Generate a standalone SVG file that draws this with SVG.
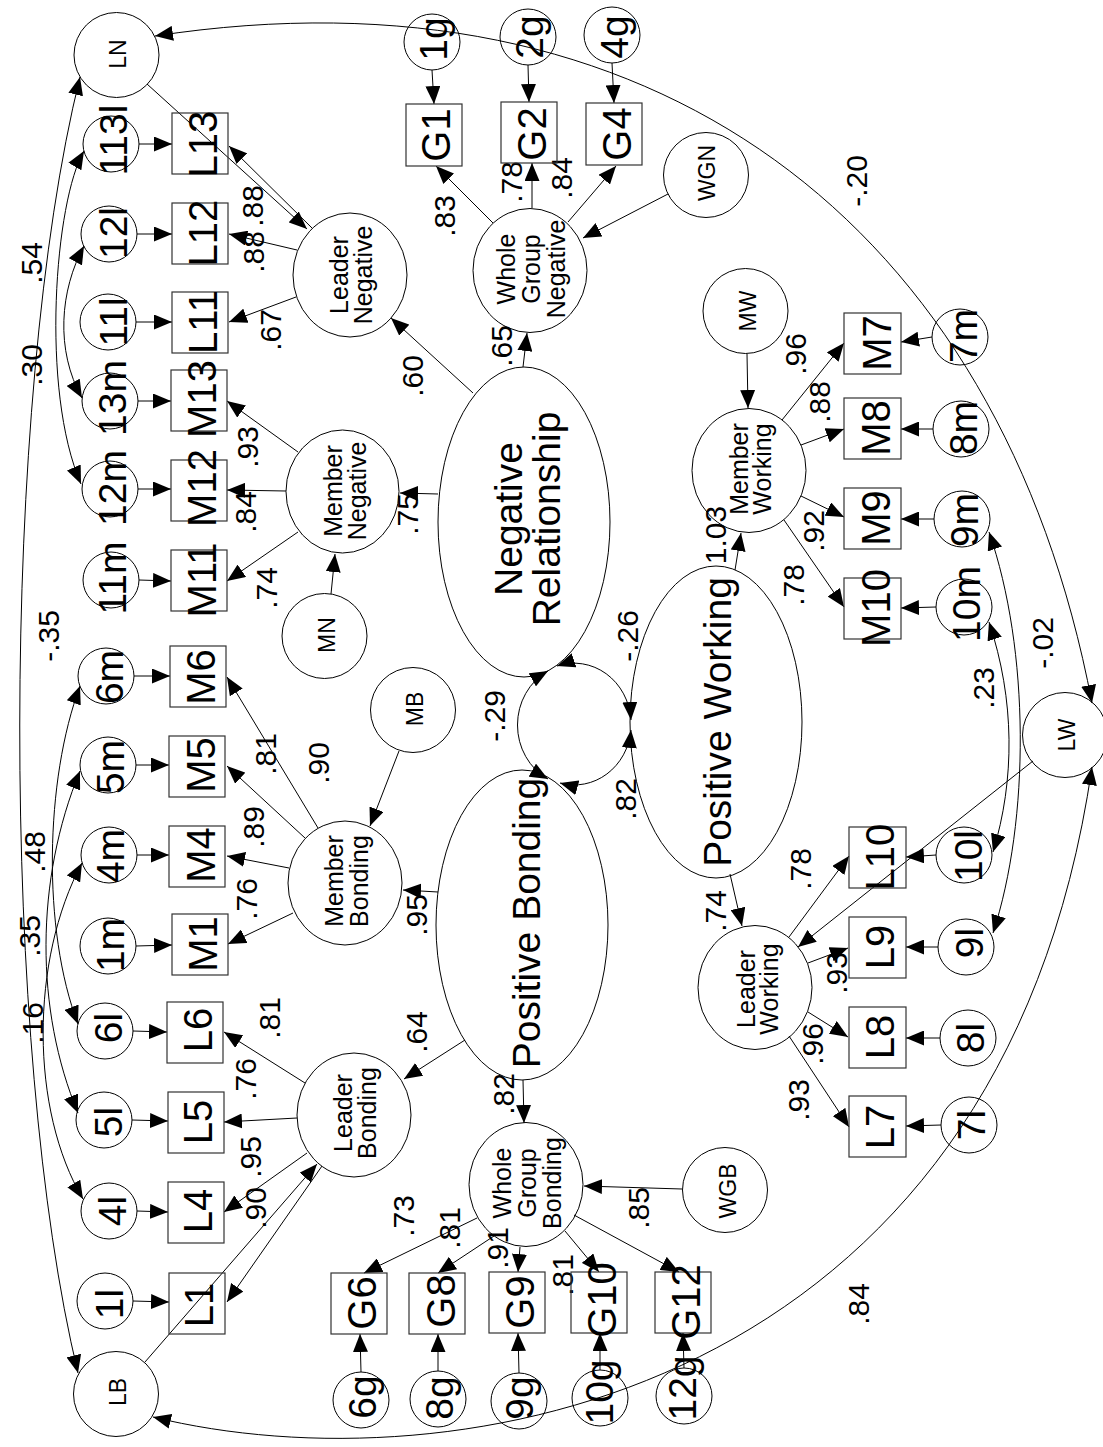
<svg xmlns="http://www.w3.org/2000/svg" width="1103" height="1447" viewBox="0 0 1103 1447">
<style>
.ln{fill:none;stroke:#000;stroke-width:1}
.nd{fill:none;stroke:#000;stroke-width:1}
.bx{fill:none;stroke:#333;stroke-width:1.2}
text{font-family:"Liberation Sans",Arial,sans-serif;text-anchor:middle;dominant-baseline:central;fill:#000}
.b{font-size:40px}
.e{font-size:39px}
.s{font-size:23px}
.f{font-size:25px}
.big{font-size:39px}
.c{font-size:30px}
</style>
<defs>
<marker id="a" markerUnits="userSpaceOnUse" markerWidth="18" markerHeight="15" refX="18" refY="7.5" orient="auto-start-reverse" viewBox="0 0 18 15"><path d="M0,0 L18,7.5 L0,15 z" fill="#000"/></marker>
</defs>
<rect width="1103" height="1447" fill="#fff"/>

<g id="connectors">
<g class="ln" marker-end="url(#a)">
<!-- left error to box -->
<path d="M139,144 L172,144"/><path d="M137,234 L172,234"/><path d="M136,322 L172,322"/>
<path d="M138,401 L171,401"/><path d="M138,489 L171,489"/><path d="M139,580 L171,581"/>
<path d="M134,676 L170,676"/><path d="M136,765 L169,765"/><path d="M137,855 L169,855"/>
<path d="M136,946 L172,945"/><path d="M133,1031 L167,1032"/><path d="M132,1120 L168,1121"/>
<path d="M137,1211 L168,1212"/><path d="M133,1301 L169,1302"/>
<!-- top/bottom error to box -->
<path d="M432,70 L434,104"/><path d="M528,65 L529,102"/><path d="M612,63 L614,103"/>
<path d="M361,1372 L360,1334"/><path d="M438,1371 L438,1334"/><path d="M519,1373 L518,1333"/>
<path d="M600,1370 L600,1333"/><path d="M684,1368 L683,1333"/>
<!-- right error to box -->
<path d="M932,337 L901,342"/><path d="M933,429 L901,429"/><path d="M934,519 L901,519"/>
<path d="M936,607 L901,608"/><path d="M936,855 L906,857"/><path d="M938,947 L906,947"/>
<path d="M940,1038 L906,1038"/><path d="M941,1125 L906,1126"/>
<!-- Leader Negative -->
<path d="M312,228 L229,146"/><path d="M297,250 L229,234"/><path d="M296,297 L229,322"/>
<path d="M147,84 L307,229"/>
<!-- Member Negative -->
<path d="M298,452 L227,401"/><path d="M286,491 L227,490"/><path d="M298,532 L227,581"/>
<path d="M331,594 L335,554"/>
<!-- Negative Relationship -->
<path d="M473,393 L391,318"/><path d="M438,494 L400,493"/><path d="M523,367 L527,333"/>
<!-- Whole Group Negative -->
<path d="M493,223 L436,166"/><path d="M532,208 L532,163"/><path d="M568,222 L616,166"/>
<path d="M668,194 L583,238"/>
<!-- Member Working -->
<path d="M747,354 L748,408"/>
<path d="M782,420 L844,343"/><path d="M801,445 L844,429"/><path d="M801,496 L844,517"/><path d="M784,520 L844,607"/>
<path d="M735,570 L741,533"/>
<!-- Leader Working -->
<path d="M730,874 L742,926"/>
<path d="M789,937 L849,856"/><path d="M808,963 L848,948"/><path d="M808,1012 L848,1037"/><path d="M789,1036 L849,1127"/>
<path d="M1033,761 L798,947"/>
<!-- Member Bonding -->
<path d="M318,828 L227,677"/><path d="M305,838 L227,766"/><path d="M289,868 L227,856"/><path d="M293,913 L228,944"/>
<path d="M399,751 L370,826"/>
<!-- Positive Bonding -->
<path d="M438,892 L403,890"/><path d="M465,1040 L404,1079"/><path d="M523,1080 L524,1123"/>
<!-- Leader Bonding -->
<path d="M305,1083 L224,1032"/><path d="M297,1118 L224,1122"/><path d="M307,1153 L224,1212"/><path d="M322,1166 L227,1302"/>
<path d="M145,1362 L317,1164"/>
<!-- Whole Group Bonding -->
<path d="M477,1218 L364,1273"/><path d="M494,1236 L438,1273"/><path d="M520,1247 L518,1272"/>
<path d="M565,1231 L599,1272"/><path d="M574,1215 L679,1272"/>
<path d="M682,1189 L584,1186"/>
</g>
<g class="ln" marker-start="url(#a)" marker-end="url(#a)">
<path d="M80,77 C0,400 0,1050 78,1373"/>
<path d="M84,151 C55,200 40,390 81,484"/>
<path d="M84,246 C60,290 55,350 82,398"/>
<path d="M80,686 C45,780 42,930 78,1024"/>
<path d="M80,771 C35,880 35,1010 78,1113"/>
<path d="M82,863 C30,960 30,1110 83,1199"/>
<path d="M155,36 C650,-40 1000,220 1092,703"/>
<path d="M153,1417 C450,1490 1000,1400 1092,767"/>
<path d="M989,532 C1030,650 1030,820 993,933"/>
<path d="M989,622 C1015,700 1015,780 993,852"/>
<path d="M548,671 A57,61 0 0 0 548,779"/>
<path d="M557,666 A57,61 0 0 1 631,720"/>
<path d="M560,783 A57,61 0 0 0 631,730"/>
</g>
</g>

<g id="coefficients" class="c">
<text transform="translate(31 263) rotate(-90)">.54</text>
<text transform="translate(31 365) rotate(-90)">.30</text>
<text transform="translate(48 636) rotate(-90)">-.35</text>
<text transform="translate(34 852) rotate(-90)">.48</text>
<text transform="translate(29 936) rotate(-90)">.35</text>
<text transform="translate(32 1023) rotate(-90)">.16</text>
<text transform="translate(252 206) rotate(-90)">.88</text>
<text transform="translate(253 252) rotate(-90)">.88</text>
<text transform="translate(270 330) rotate(-90)">.67</text>
<text transform="translate(247 447) rotate(-90)">.93</text>
<text transform="translate(245 512) rotate(-90)">.84</text>
<text transform="translate(266 588) rotate(-90)">.74</text>
<text transform="translate(412 376) rotate(-90)">.60</text>
<text transform="translate(407 514) rotate(-90)">.75</text>
<text transform="translate(501 346) rotate(-90)">.65</text>
<text transform="translate(444 216) rotate(-90)">.83</text>
<text transform="translate(511 182) rotate(-90)">.78</text>
<text transform="translate(561 178) rotate(-90)">.84</text>
<text transform="translate(856 181) rotate(-90)">-.20</text>
<text transform="translate(795 354) rotate(-90)">.96</text>
<text transform="translate(819 402) rotate(-90)">.88</text>
<text transform="translate(813 531) rotate(-90)">.92</text>
<text transform="translate(793 585) rotate(-90)">.78</text>
<text transform="translate(715 535) rotate(-90)">1.03</text>
<text transform="translate(627 636) rotate(-90)">-.26</text>
<text transform="translate(494 716) rotate(-90)">-.29</text>
<text transform="translate(625 799) rotate(-90)">.82</text>
<text transform="translate(1042 643) rotate(-90)">-.02</text>
<text transform="translate(983 688) rotate(-90)">.23</text>
<text transform="translate(318 763) rotate(-90)">.90</text>
<text transform="translate(265 754) rotate(-90)">.81</text>
<text transform="translate(253 827) rotate(-90)">.89</text>
<text transform="translate(246 899) rotate(-90)">.76</text>
<text transform="translate(416 915) rotate(-90)">.95</text>
<text transform="translate(416 1032) rotate(-90)">.64</text>
<text transform="translate(715 911) rotate(-90)">.74</text>
<text transform="translate(800 869) rotate(-90)">.78</text>
<text transform="translate(836 973) rotate(-90)">.93</text>
<text transform="translate(812 1044) rotate(-90)">.96</text>
<text transform="translate(798 1100) rotate(-90)">.93</text>
<text transform="translate(269 1018) rotate(-90)">.81</text>
<text transform="translate(245 1079) rotate(-90)">.76</text>
<text transform="translate(250 1157) rotate(-90)">.95</text>
<text transform="translate(255 1208) rotate(-90)">.90</text>
<text transform="translate(503 1094) rotate(-90)">.82</text>
<text transform="translate(403 1216) rotate(-90)">.73</text>
<text transform="translate(449 1228) rotate(-90)">.81</text>
<text transform="translate(497 1248) rotate(-90)">.91</text>
<text transform="translate(562 1275) rotate(-90)">.81</text>
<text transform="translate(638 1208) rotate(-90)">.85</text>
<text transform="translate(858 1304) rotate(-90)">.84</text>
</g>

<!-- Big latent factors -->
<g id="NegativeRelationship"><ellipse class="nd" cx="524" cy="522" rx="86" ry="155"/>
<text class="big" transform="translate(524 519) rotate(-90)"><tspan x="0" y="-16">Negative</tspan><tspan x="0" y="22">Relationship</tspan></text></g>
<g id="PositiveBonding"><ellipse class="nd" cx="522" cy="925" rx="86" ry="155"/>
<text class="big" transform="translate(526 923) rotate(-90)">Positive Bonding</text></g>
<g id="PositiveWorking"><ellipse class="nd" cx="716" cy="722" rx="86" ry="156"/>
<text class="big" transform="translate(717 722) rotate(-90)">Positive Working</text></g>

<!-- First-order factors -->
<g id="LeaderNegative"><ellipse class="nd" cx="350" cy="275" rx="57" ry="62"/>
<text class="f" transform="translate(350 275) rotate(-90)"><tspan x="0" y="-11">Leader</tspan><tspan x="0" y="13">Negative</tspan></text></g>
<g id="MemberNegative"><ellipse class="nd" cx="342.5" cy="491.5" rx="56.5" ry="61.5"/>
<text class="f" transform="translate(342.5 491) rotate(-90)"><tspan x="0" y="-9.5">Member</tspan><tspan x="0" y="14.5">Negative</tspan></text></g>
<g id="WholeGroupNegative"><ellipse class="nd" cx="530" cy="270.5" rx="57" ry="62"/>
<text class="f" transform="translate(530 269) rotate(-90)"><tspan x="0" y="-24">Whole</tspan><tspan x="0" y="1">Group</tspan><tspan x="0" y="26">Negative</tspan></text></g>
<g id="MemberBonding"><ellipse class="nd" cx="345" cy="883" rx="57" ry="62"/>
<text class="f" transform="translate(345 881) rotate(-90)"><tspan x="0" y="-11">Member</tspan><tspan x="0" y="14">Bonding</tspan></text></g>
<g id="LeaderBonding"><ellipse class="nd" cx="354" cy="1115" rx="57" ry="62"/>
<text class="f" transform="translate(354 1113) rotate(-90)"><tspan x="0" y="-11.5">Leader</tspan><tspan x="0" y="13">Bonding</tspan></text></g>
<g id="WholeGroupBonding"><ellipse class="nd" cx="526" cy="1184.5" rx="57" ry="62"/>
<text class="f" transform="translate(526 1183) rotate(-90)"><tspan x="0" y="-24">Whole</tspan><tspan x="0" y="1">Group</tspan><tspan x="0" y="26">Bonding</tspan></text></g>
<g id="MemberWorking"><ellipse class="nd" cx="749" cy="470.5" rx="57" ry="62"/>
<text class="f" transform="translate(749 469) rotate(-90)"><tspan x="0" y="-10">Member</tspan><tspan x="0" y="13">Working</tspan></text></g>
<g id="LeaderWorking"><ellipse class="nd" cx="755" cy="987.5" rx="57" ry="62"/>
<text class="f" transform="translate(755 989) rotate(-90)"><tspan x="0" y="-9">Leader</tspan><tspan x="0" y="14">Working</tspan></text></g>

<!-- Disturbances / method factors -->
<g id="LN"><circle class="nd" cx="116.5" cy="55" r="42.5"/><text class="s" transform="translate(118 54) rotate(-90)">LN</text></g>
<g id="LB"><circle class="nd" cx="116" cy="1394" r="42.5"/><text class="s" transform="translate(118 1392) rotate(-90)">LB</text></g>
<g id="MN"><circle class="nd" cx="324.5" cy="636" r="42.5"/><text class="s" transform="translate(327 635) rotate(-90)">MN</text></g>
<g id="MB"><circle class="nd" cx="413" cy="710" r="42.5"/><text class="s" transform="translate(415 709) rotate(-90)">MB</text></g>
<g id="WGN"><circle class="nd" cx="706" cy="175" r="42.5"/><text class="s" transform="translate(707 173) rotate(-90)">WGN</text></g>
<g id="WGB"><circle class="nd" cx="725" cy="1190" r="42.5"/><text class="s" transform="translate(728 1191) rotate(-90)">WGB</text></g>
<g id="MW"><circle class="nd" cx="745.5" cy="311" r="42.5"/><text class="s" transform="translate(748 311) rotate(-90)">MW</text></g>
<g id="LW"><circle class="nd" cx="1065" cy="735" r="42.5"/><text class="s" transform="translate(1067 735) rotate(-90)">LW</text></g>

<!-- Observed variables -->
<g id="L13"><rect class="bx" x="172" y="113" width="56" height="61"/><text class="b" transform="translate(203 144) rotate(-90)">L13</text></g>
<g id="L12"><rect class="bx" x="172" y="203" width="56" height="61"/><text class="b" transform="translate(203 233) rotate(-90)">L12</text></g>
<g id="L11"><rect class="bx" x="172" y="292" width="56" height="61"/><text class="b" transform="translate(203 322) rotate(-90)">L11</text></g>
<g id="M13"><rect class="bx" x="171" y="370" width="56" height="61"/><text class="b" transform="translate(202 399) rotate(-90)">M13</text></g>
<g id="M12"><rect class="bx" x="171" y="460" width="56" height="61"/><text class="b" transform="translate(202 488) rotate(-90)">M12</text></g>
<g id="M11"><rect class="bx" x="171" y="550" width="56" height="61"/><text class="b" transform="translate(202 580) rotate(-90)">M11</text></g>
<g id="M6"><rect class="bx" x="170" y="646" width="56" height="61"/><text class="b" transform="translate(201 677) rotate(-90)">M6</text></g>
<g id="M5"><rect class="bx" x="169" y="736" width="56" height="61"/><text class="b" transform="translate(201 765) rotate(-90)">M5</text></g>
<g id="M4"><rect class="bx" x="169" y="826" width="56" height="61"/><text class="b" transform="translate(201 855) rotate(-90)">M4</text></g>
<g id="M1"><rect class="bx" x="172" y="914" width="56" height="61"/><text class="b" transform="translate(203 944) rotate(-90)">M1</text></g>
<g id="L6"><rect class="bx" x="167" y="1002" width="56" height="61"/><text class="b" transform="translate(198 1030) rotate(-90)">L6</text></g>
<g id="L5"><rect class="bx" x="168" y="1092" width="56" height="61"/><text class="b" transform="translate(198 1122) rotate(-90)">L5</text></g>
<g id="L4"><rect class="bx" x="168" y="1182" width="56" height="61"/><text class="b" transform="translate(198 1211) rotate(-90)">L4</text></g>
<g id="L1"><rect class="bx" x="169" y="1273" width="56" height="61"/><text class="b" transform="translate(199 1305) rotate(-90)">L1</text></g>
<g id="G1"><rect class="bx" x="406" y="104" width="56" height="62"/><text class="b" transform="translate(436 135) rotate(-90)">G1</text></g>
<g id="G2"><rect class="bx" x="501" y="102" width="56" height="61"/><text class="b" transform="translate(532 134) rotate(-90)">G2</text></g>
<g id="G4"><rect class="bx" x="586" y="103" width="56" height="62"/><text class="b" transform="translate(617 134) rotate(-90)">G4</text></g>
<g id="G6"><rect class="bx" x="331" y="1273" width="56" height="61"/><text class="b" transform="translate(362 1303) rotate(-90)">G6</text></g>
<g id="G8"><rect class="bx" x="409" y="1273" width="56" height="61"/><text class="b" transform="translate(441 1301) rotate(-90)">G8</text></g>
<g id="G9"><rect class="bx" x="489" y="1272" width="56" height="61"/><text class="b" transform="translate(520 1302) rotate(-90)">G9</text></g>
<g id="G10"><rect class="bx" x="571" y="1272" width="56" height="61"/><text class="b" transform="translate(602 1300) rotate(-90)">G10</text></g>
<g id="G12"><rect class="bx" x="655" y="1272" width="56" height="61"/><text class="b" transform="translate(686 1302) rotate(-90)">G12</text></g>
<g id="M7"><rect class="bx" x="844" y="313" width="57" height="61"/><text class="b" transform="translate(877 343) rotate(-90)">M7</text></g>
<g id="M8"><rect class="bx" x="844" y="398" width="57" height="61"/><text class="b" transform="translate(876 428) rotate(-90)">M8</text></g>
<g id="M9"><rect class="bx" x="844" y="488" width="57" height="61"/><text class="b" transform="translate(876 518) rotate(-90)">M9</text></g>
<g id="M10"><rect class="bx" x="844" y="578" width="57" height="61"/><text class="b" transform="translate(876 608) rotate(-90)">M10</text></g>
<g id="L10"><rect class="bx" x="849" y="827" width="57" height="61"/><text class="b" transform="translate(880 857) rotate(-90)">L10</text></g>
<g id="L9"><rect class="bx" x="849" y="917" width="57" height="61"/><text class="b" transform="translate(880 947) rotate(-90)">L9</text></g>
<g id="L8"><rect class="bx" x="849" y="1007" width="57" height="61"/><text class="b" transform="translate(880 1037) rotate(-90)">L8</text></g>
<g id="L7"><rect class="bx" x="849" y="1096" width="57" height="61"/><text class="b" transform="translate(880 1127) rotate(-90)">L7</text></g>

<!-- Error terms -->
<g id="e113l"><circle class="nd" cx="111" cy="144" r="28"/><text class="e" transform="translate(113 140) rotate(-90)">113l</text></g>
<g id="e12l"><circle class="nd" cx="109" cy="234" r="28"/><text class="e" transform="translate(113 233) rotate(-90)">12l</text></g>
<g id="e11l"><circle class="nd" cx="108" cy="322" r="28"/><text class="e" transform="translate(113 322) rotate(-90)">11l</text></g>
<g id="e13m"><circle class="nd" cx="110" cy="401" r="28"/><text class="e" transform="translate(112 398) rotate(-90)">13m</text></g>
<g id="e12m"><circle class="nd" cx="110" cy="489" r="28"/><text class="e" transform="translate(112 488) rotate(-90)">12m</text></g>
<g id="e11m"><circle class="nd" cx="111" cy="580" r="28"/><text class="e" transform="translate(112 578) rotate(-90)">11m</text></g>
<g id="e6m"><circle class="nd" cx="106" cy="676" r="28"/><text class="e" transform="translate(109 677) rotate(-90)">6m</text></g>
<g id="e5m"><circle class="nd" cx="108" cy="765" r="28"/><text class="e" transform="translate(110 767) rotate(-90)">5m</text></g>
<g id="e4m"><circle class="nd" cx="109" cy="855" r="28"/><text class="e" transform="translate(110 856) rotate(-90)">4m</text></g>
<g id="e1m"><circle class="nd" cx="108" cy="946" r="28"/><text class="e" transform="translate(110 945) rotate(-90)">1m</text></g>
<g id="e6l"><circle class="nd" cx="105" cy="1031" r="28"/><text class="e" transform="translate(108 1028) rotate(-90)">6l</text></g>
<g id="e5l"><circle class="nd" cx="104" cy="1120" r="28"/><text class="e" transform="translate(108 1122) rotate(-90)">5l</text></g>
<g id="e4l"><circle class="nd" cx="109" cy="1211" r="28"/><text class="e" transform="translate(112 1211) rotate(-90)">4l</text></g>
<g id="e1l"><circle class="nd" cx="105" cy="1301" r="28"/><text class="e" transform="translate(109 1304) rotate(-90)">1l</text></g>
<g id="e7m"><circle class="nd" cx="960" cy="337" r="28"/><text class="e" transform="translate(963 336) rotate(-90)">7m</text></g>
<g id="e8m"><circle class="nd" cx="961" cy="429" r="28"/><text class="e" transform="translate(963 428) rotate(-90)">8m</text></g>
<g id="e9m"><circle class="nd" cx="962" cy="519" r="28"/><text class="e" transform="translate(964 520) rotate(-90)">9m</text></g>
<g id="e10m"><circle class="nd" cx="964" cy="607" r="28"/><text class="e" transform="translate(966 604) rotate(-90)">10m</text></g>
<g id="e10l"><circle class="nd" cx="964" cy="855" r="28"/><text class="e" transform="translate(968 856) rotate(-90)">10l</text></g>
<g id="e9l"><circle class="nd" cx="966" cy="947" r="28"/><text class="e" transform="translate(969 943) rotate(-90)">9l</text></g>
<g id="e8l"><circle class="nd" cx="968" cy="1038" r="28"/><text class="e" transform="translate(970 1038) rotate(-90)">8l</text></g>
<g id="e7l"><circle class="nd" cx="969" cy="1125" r="28"/><text class="e" transform="translate(971 1125) rotate(-90)">7l</text></g>
<g id="e1g"><circle class="nd" cx="432" cy="42" r="28"/><text class="e" transform="translate(433 39) rotate(-90)">1g</text></g>
<g id="e2g"><circle class="nd" cx="528" cy="37" r="28"/><text class="e" transform="translate(529 37) rotate(-90)">2g</text></g>
<g id="e4g"><circle class="nd" cx="612" cy="35" r="28"/><text class="e" transform="translate(614 37) rotate(-90)">4g</text></g>
<g id="e6g"><circle class="nd" cx="361" cy="1400" r="28"/><text class="e" transform="translate(362 1397) rotate(-90)">6g</text></g>
<g id="e8g"><circle class="nd" cx="438" cy="1399" r="28"/><text class="e" transform="translate(439 1398) rotate(-90)">8g</text></g>
<g id="e9g"><circle class="nd" cx="519" cy="1401" r="28"/><text class="e" transform="translate(519 1398) rotate(-90)">9g</text></g>
<g id="e10g"><circle class="nd" cx="600" cy="1398" r="28"/><text class="e" transform="translate(599 1392) rotate(-90)">10g</text></g>
<g id="e12g"><circle class="nd" cx="684" cy="1396" r="28"/><text class="e" transform="translate(682 1388) rotate(-90)">12g</text></g>
</svg>
